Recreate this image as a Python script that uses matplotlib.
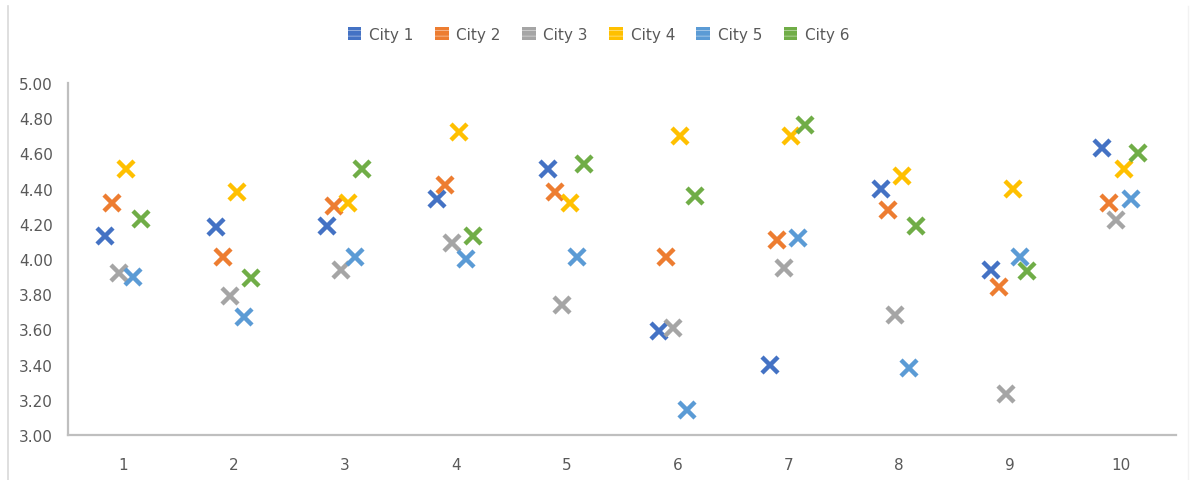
import numpy as np
import matplotlib.pyplot as plt
from matplotlib.patches import Patch
from matplotlib.lines import Line2D

categories = [1, 2, 3, 4, 5, 6, 7, 8, 9, 10]
city_names = ["City 1", "City 2", "City 3", "City 4", "City 5", "City 6"]

city1 = [4.13, 4.18, 4.19, 4.34, 4.51, 3.59, 3.40, 4.40, 3.94, 4.63]
city2 = [4.32, 4.01, 4.30, 4.42, 4.38, 4.01, 4.11, 4.28, 3.84, 4.32]
city3 = [3.92, 3.79, 3.94, 4.09, 3.74, 3.61, 3.95, 3.68, 3.23, 4.22]
city4 = [4.51, 4.38, 4.32, 4.72, 4.32, 4.70, 4.70, 4.47, 4.40, 4.51]
city5 = [3.90, 3.67, 4.01, 4.00, 4.01, 3.14, 4.12, 3.38, 4.01, 4.34]
city6 = [4.23, 3.89, 4.51, 4.13, 4.54, 4.36, 4.76, 4.19, 3.93, 4.60]

colors = ["#4472C4", "#ED7D31", "#A5A5A5", "#FFC000", "#5B9BD5", "#70AD47"]
series = [city1, city2, city3, city4, city5, city6]

# each city sits slightly to the side of its category
offsets = np.linspace(-0.165, 0.155, 6)

fig = plt.figure(figsize=(11.9, 4.81), dpi=100)
ax = fig.add_axes([0.0571, 0.0936, 0.9311, 0.7318])

x = np.array(categories, dtype=float)
for vals, col, off in zip(series, colors, offsets):
    ax.plot(x + off, vals, linestyle="none", marker="x", markersize=11,
            markeredgewidth=3.2, color=col, solid_capstyle="round",
            zorder=3)

ax.set_xlim(0.5, 10.5)
ax.set_ylim(3.0, 5.0)
ax.set_xticks(categories)
ax.set_yticks(np.arange(3.0, 5.01, 0.2))
ax.yaxis.set_major_formatter(plt.FormatStrFormatter("%.2f"))
ax.tick_params(length=0, labelsize=11, labelcolor="#595959")
ax.tick_params(axis="y", pad=11)
ax.tick_params(axis="x", pad=16)
for side in ["top", "right"]:
    ax.spines[side].set_visible(False)
for side in ["left", "bottom"]:
    ax.spines[side].set_color("#BFBFBF")
    ax.spines[side].set_linewidth(1.6)

# striped square swatches for the legend
plt.rcParams["hatch.linewidth"] = 0.5
handles = [Patch(facecolor=c, edgecolor="#FFFFFF99", hatch="---", linewidth=0)
           for c in colors]
fig.legend(handles, city_names, loc="center", bbox_to_anchor=(0.503, 0.927),
           ncol=6, frameon=False, fontsize=11, labelcolor="#595959",
           handlelength=0.9, handleheight=0.9, handletextpad=0.5,
           columnspacing=1.4)

# outer chart border
fig.add_artist(Line2D([8 / 1190, 8 / 1190], [0, 1 - 7 / 481],
                      transform=fig.transFigure, color="#D9D9D9", lw=1.2))
fig.add_artist(Line2D([1188 / 1190, 1188 / 1190], [0, 1 - 7 / 481],
                      transform=fig.transFigure, color="#F2F2F2", lw=1.0))

fig.savefig("out.png", dpi=100, facecolor="white")
